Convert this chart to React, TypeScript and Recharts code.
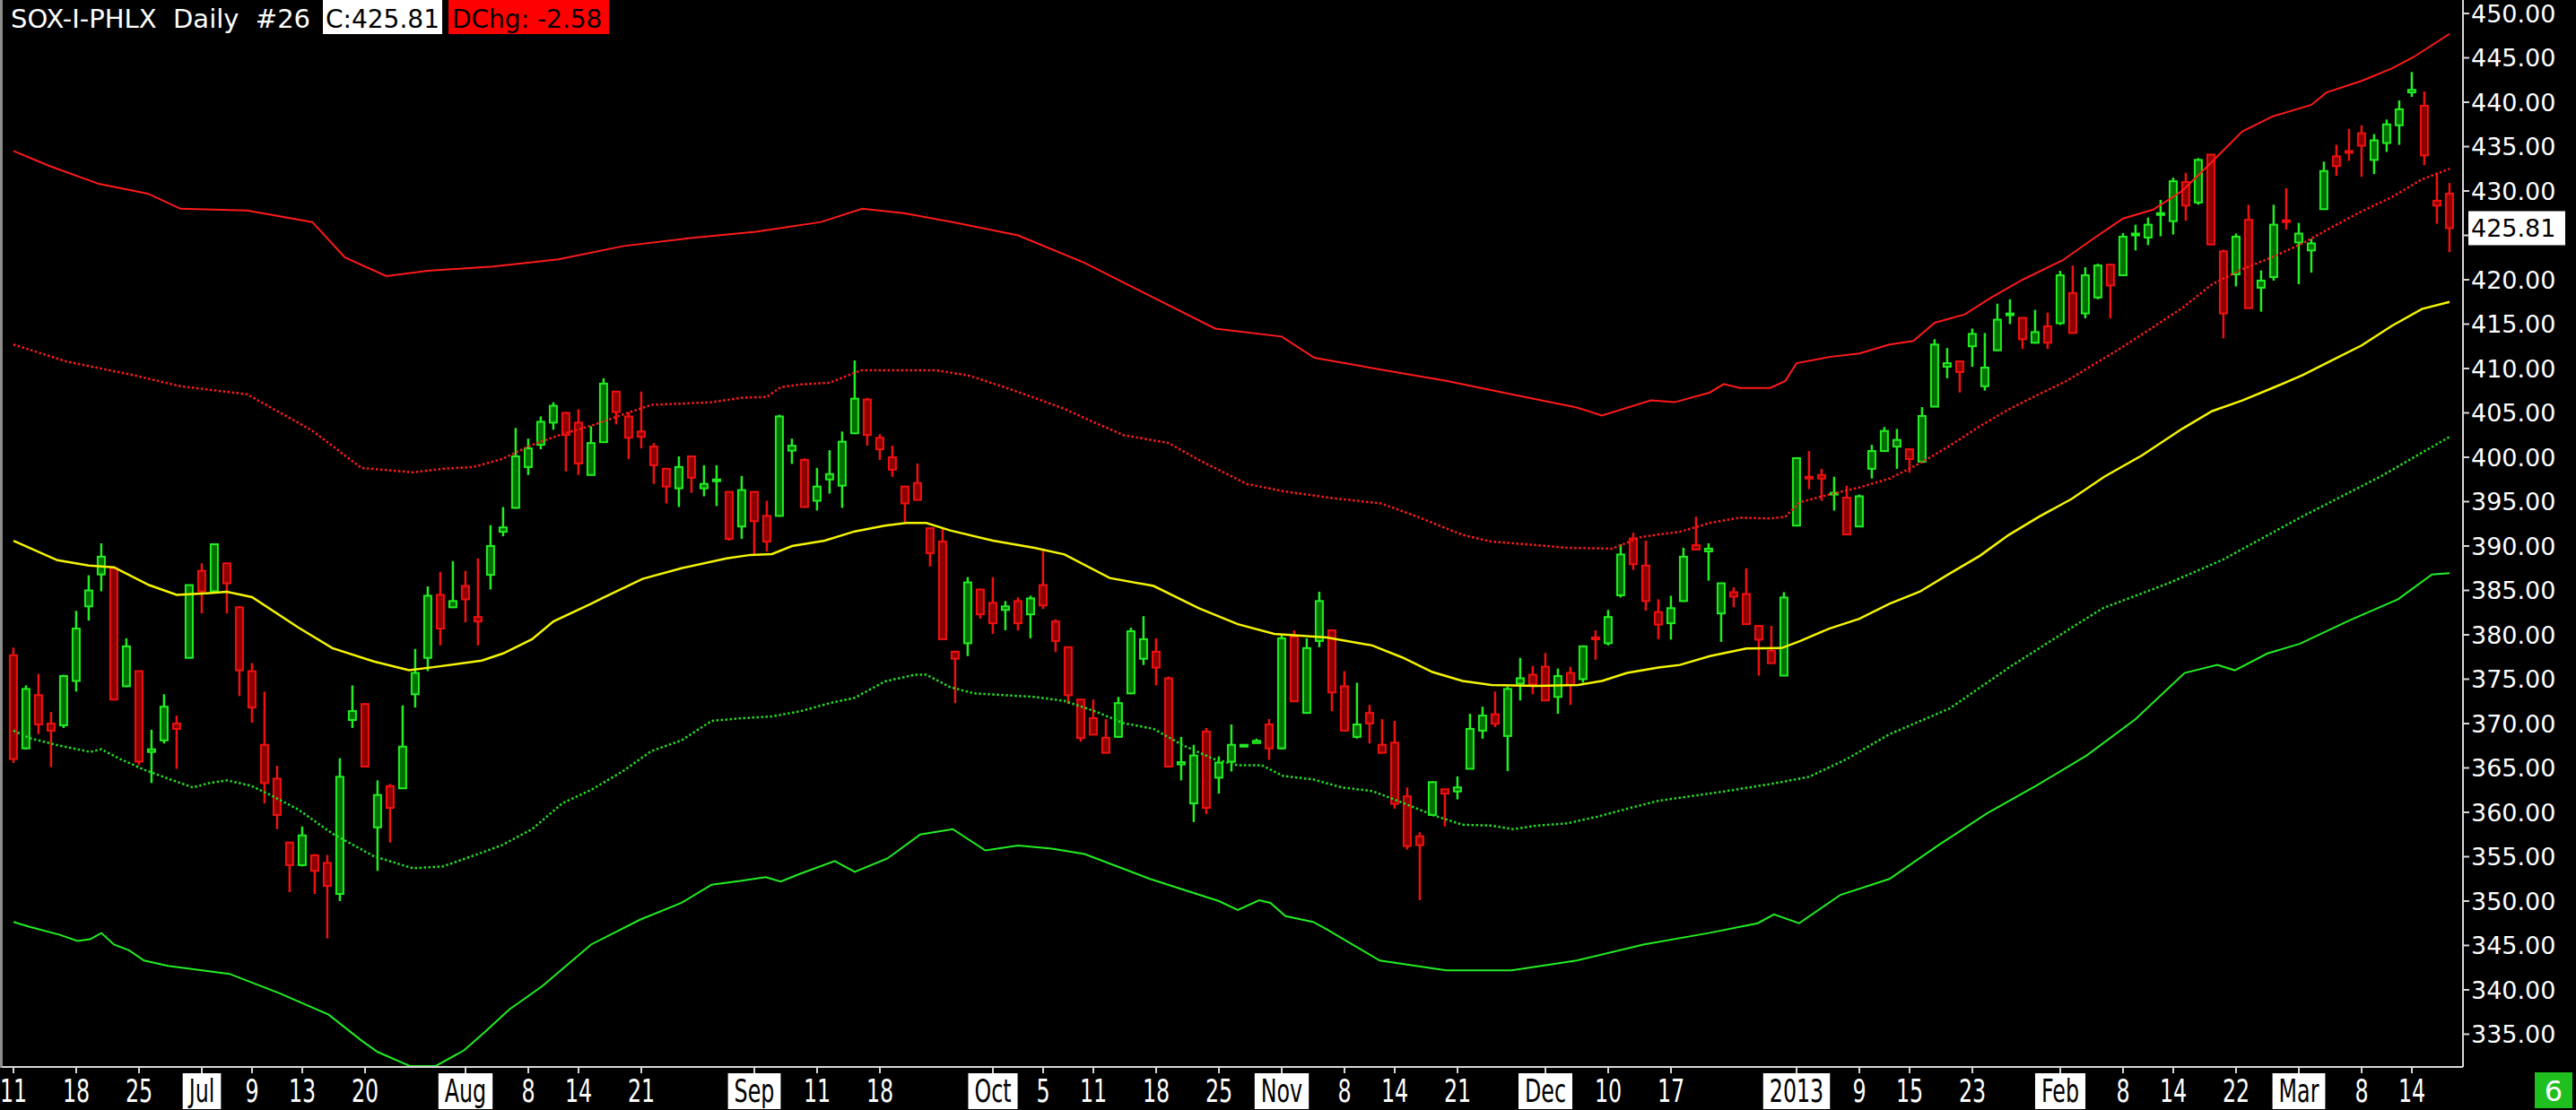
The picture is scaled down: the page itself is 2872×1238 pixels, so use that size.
import { Bar, ComposedChart, Line, ReferenceLine, XAxis, YAxis } from "recharts";

// trading sessions, Jun 11 2012 .. Mar 19 2013 (Oct 29/30 kept as flat bars)
const dates = [
  "6/11", "6/12", "6/13", "6/14", "6/15", "6/18", "6/19", "6/20", "6/21", "6/22", "6/25", "6/26", "6/27", "6/28", "6/29",
  "7/2", "7/3", "7/5", "7/6", "7/9", "7/10", "7/11", "7/12", "7/13", "7/16", "7/17", "7/18", "7/19", "7/20",
  "7/23", "7/24", "7/25", "7/26", "7/27", "7/30", "7/31",
  "8/1", "8/2", "8/3", "8/6", "8/7", "8/8", "8/9", "8/10", "8/13", "8/14", "8/15", "8/16", "8/17",
  "8/20", "8/21", "8/22", "8/23", "8/24", "8/27", "8/28", "8/29", "8/30", "8/31",
  "9/4", "9/5", "9/6", "9/7", "9/10", "9/11", "9/12", "9/13", "9/14", "9/17", "9/18", "9/19", "9/20", "9/21",
  "9/24", "9/25", "9/26", "9/27", "9/28",
  "10/1", "10/2", "10/3", "10/4", "10/5", "10/8", "10/9", "10/10", "10/11", "10/12", "10/15", "10/16", "10/17", "10/18", "10/19",
  "10/22", "10/23", "10/24", "10/25", "10/26", "10/29", "10/30", "10/31",
  "11/1", "11/2", "11/5", "11/6", "11/7", "11/8", "11/9", "11/12", "11/13", "11/14", "11/15", "11/16",
  "11/19", "11/20", "11/21", "11/23", "11/26", "11/27", "11/28", "11/29", "11/30",
  "12/3", "12/4", "12/5", "12/6", "12/7", "12/10", "12/11", "12/12", "12/13", "12/14", "12/17", "12/18", "12/19", "12/20", "12/21",
  "12/24", "12/26", "12/27", "12/28", "12/31",
  "1/2", "1/3", "1/4", "1/7", "1/8", "1/9", "1/10", "1/11", "1/14", "1/15", "1/16", "1/17", "1/18",
  "1/22", "1/23", "1/24", "1/25", "1/28", "1/29", "1/30", "1/31",
  "2/1", "2/4", "2/5", "2/6", "2/7", "2/8", "2/11", "2/12", "2/13", "2/14", "2/15", "2/19", "2/20", "2/21", "2/22",
  "2/25", "2/26", "2/27", "2/28",
  "3/1", "3/4", "3/5", "3/6", "3/7", "3/8", "3/11", "3/12", "3/13", "3/14", "3/15", "3/18", "3/19",
];

const open = [
  377.7, 367.2, 373.2, 370.0, 369.8, 374.8, 383.2, 386.8, 387.5, 374.2,
  375.9, 366.8, 368.1, 370.0, 377.4, 387.2, 384.9, 388.05, 383.1, 375.9,
  367.6, 363.8, 356.6, 354.05, 355.15, 354.3, 350.8, 370.4, 372.2, 358.3,
  362.95, 362.7, 373.3, 377.4, 384.5, 383.1, 385.5, 382.0, 386.75, 391.6,
  394.3, 398.9, 401.4, 403.9, 405.0, 403.9, 398.0, 401.7, 407.4, 404.6,
  402.9, 401.2, 398.7, 396.5, 400.1, 396.5, 397.3, 396.1, 392.2, 396.1,
  393.4, 393.4, 400.75, 399.7, 395.1, 397.5, 396.8, 402.7, 406.5, 402.2,
  400.0, 396.7, 397.1, 392.0, 390.5, 378.1, 379.05, 385.1, 383.6, 382.8,
  383.8, 382.3, 385.6, 381.5, 378.6, 372.7, 370.6, 368.4, 368.5, 373.4,
  377.3, 378.1, 375.1, 365.4, 361.0, 369.1, 363.9, 365.7, 367.5, 367.8,
  369.9, 367.2, 379.8, 371.2, 379.3, 380.5, 374.2, 368.5, 371.2, 367.6,
  367.85, 361.8, 357.3, 359.7, 362.6, 362.35, 364.9, 369.2, 371.05, 368.6,
  374.5, 375.5, 376.4, 373.0, 375.7, 375.0, 379.7, 379.05, 384.45, 390.85,
  387.8, 382.56, 381.3, 383.8, 390.1, 389.4, 382.4, 384.8, 384.6, 381.0,
  378.2, 375.4, 392.3, 397.8, 398.0, 395.9, 395.45, 392.2, 398.7, 400.7,
  401.2, 400.9, 399.5, 405.7, 410.2, 410.8, 412.5, 408.0, 412.05, 416.1,
  415.7, 412.9, 414.75, 415.1, 418.5, 416.2, 418.0, 421.7, 420.5, 425.0,
  424.75, 427.3, 426.6, 431.0, 428.7, 434.1, 423.2, 420.6, 426.75, 419.1,
  420.3, 426.7, 424.2, 423.3, 427.95, 433.9, 434.5, 436.5, 433.5, 435.4,
  437.4, 441.1, 439.6, 428.9, 429.7,
];

const high = [
  378.55, 374.3, 375.6, 371.3, 375.5, 382.7, 386.7, 390.3, 387.7, 379.6,
  375.9, 369.3, 373.3, 370.9, 385.6, 388.05, 390.3, 388.05, 383.2, 376.8,
  373.6, 365.25, 356.6, 358.4, 355.3, 355.2, 366.1, 374.3, 372.3, 363.6,
  363.2, 372.05, 378.4, 385.45, 387.1, 388.3, 387.2, 388.6, 392.35, 394.4,
  403.3, 402.1, 404.6, 406.2, 405.1, 405.4, 403.5, 408.9, 407.4, 405.1,
  407.4, 401.6, 398.8, 400.1, 400.1, 399.1, 399.1, 396.1, 397.9, 396.1,
  395.1, 404.8, 402.1, 399.9, 398.8, 400.8, 402.9, 410.9, 406.7, 402.6,
  401.3, 396.7, 399.3, 392.1, 392.1, 378.2, 386.5, 385.2, 386.5, 383.8,
  384.2, 384.4, 389.5, 381.75, 378.6, 372.7, 372.7, 370.5, 373.0, 380.8,
  382.1, 379.6, 375.3, 368.5, 367.6, 369.5, 366.3, 369.9, 367.65, 368.3,
  370.5, 379.9, 380.5, 379.6, 384.85, 380.5, 375.9, 374.6, 372.1, 370.5,
  370.3, 362.8, 357.75, 363.5, 362.6, 364.05, 371.1, 371.9, 373.6, 374.15,
  377.4, 376.5, 377.95, 376.2, 376.4, 378.8, 380.5, 382.8, 390.2, 391.5,
  390.6, 384.0, 384.4, 389.8, 393.3, 390.3, 385.8, 385.35, 387.5, 381.1,
  381.0, 384.8, 399.9, 400.7, 398.7, 397.8, 396.8, 395.8, 401.4, 403.4,
  403.2, 401.0, 405.65, 413.3, 412.3, 410.9, 414.5, 414.0, 417.3, 417.8,
  415.75, 416.6, 416.3, 421.0, 421.6, 421.4, 421.8, 421.8, 425.25, 426.2,
  427.0, 429.0, 431.5, 432.05, 433.7, 434.1, 423.4, 425.2, 428.45, 421.05,
  428.45, 430.3, 426.4, 424.6, 433.3, 435.2, 437.0, 437.4, 436.4, 438.05,
  440.2, 443.4, 441.2, 432.05, 430.9,
];

const low = [
  365.56, 367.1, 368.8, 365.1, 369.5, 373.6, 381.6, 384.9, 372.6, 374.1,
  365.3, 363.3, 367.75, 364.9, 377.4, 382.4, 384.85, 382.4, 373.1, 370.1,
  361.0, 358.1, 351.0, 353.9, 350.8, 345.8, 350.0, 369.5, 365.05, 353.4,
  356.6, 362.7, 371.8, 375.9, 378.8, 383.0, 381.4, 378.8, 385.1, 391.1,
  394.2, 398.0, 400.9, 403.1, 398.4, 398.0, 398.0, 401.7, 403.7, 399.8,
  401.0, 397.0, 394.8, 394.4, 396.0, 395.6, 394.5, 390.6, 390.8, 389.1,
  389.4, 393.3, 399.25, 394.3, 394.0, 395.9, 394.3, 402.6, 401.3, 399.7,
  397.8, 392.7, 395.2, 387.7, 379.5, 372.3, 377.6, 381.8, 380.1, 380.5,
  380.5, 379.6, 382.9, 378.05, 372.2, 367.95, 368.75, 366.7, 368.4, 373.3,
  376.6, 374.3, 365.05, 363.6, 358.9, 359.8, 362.1, 364.6, 367.45, 367.8,
  365.9, 367.1, 372.5, 371.1, 378.6, 371.4, 369.2, 368.3, 367.75, 366.7,
  360.4, 355.8, 350.1, 359.6, 358.4, 361.45, 364.9, 368.3, 369.6, 364.65,
  372.6, 373.3, 372.6, 371.1, 372.1, 374.6, 377.2, 378.8, 384.2, 387.3,
  382.7, 379.5, 379.45, 383.7, 389.6, 386.1, 379.2, 383.1, 381.1, 375.4,
  376.8, 375.35, 392.3, 396.4, 395.1, 394.0, 391.3, 392.2, 397.6, 400.6,
  398.7, 398.25, 399.5, 405.65, 408.9, 407.3, 410.2, 407.5, 411.95, 415.0,
  412.2, 412.8, 412.2, 414.9, 414.0, 415.65, 417.8, 415.65, 420.5, 423.3,
  423.9, 424.9, 425.1, 426.65, 428.45, 423.9, 413.4, 419.25, 416.8, 416.4,
  419.9, 425.65, 419.5, 420.8, 427.9, 431.7, 433.4, 431.6, 431.9, 434.4,
  435.2, 440.6, 432.9, 426.3, 423.1,
];

const close = [
  366.0, 373.9, 369.9, 369.2, 375.35, 380.7, 385.0, 388.8, 372.7, 378.7,
  365.7, 367.1, 371.9, 369.4, 385.6, 384.9, 390.2, 385.8, 376.0, 371.8,
  363.3, 359.7, 354.05, 357.4, 353.4, 351.7, 364.0, 371.4, 365.15, 361.95,
  360.5, 367.4, 375.7, 384.4, 380.7, 383.8, 384.0, 381.5, 390.0, 392.1,
  400.1, 401.0, 404.0, 405.8, 402.5, 399.3, 401.6, 408.3, 405.1, 402.2,
  402.3, 399.1, 396.7, 398.9, 397.7, 397.0, 397.5, 390.8, 396.3, 392.8,
  390.5, 404.6, 401.3, 394.4, 396.7, 398.1, 401.75, 406.6, 402.5, 400.9,
  398.6, 394.8, 395.2, 389.2, 379.5, 377.3, 385.9, 382.3, 381.3, 383.2,
  381.3, 384.1, 383.3, 379.3, 373.2, 368.35, 368.75, 366.7, 372.3, 380.4,
  379.5, 376.3, 365.15, 365.65, 366.4, 360.5, 365.6, 367.6, 367.6, 368.05,
  367.2, 379.6, 372.5, 378.5, 383.8, 373.5, 369.2, 369.9, 370.0, 366.7,
  360.95, 356.2, 356.3, 363.4, 362.1, 362.8, 369.4, 370.9, 369.97, 373.9,
  375.1, 374.4, 372.6, 375.35, 374.35, 378.7, 379.5, 382.0, 389.05, 387.95,
  383.8, 381.15, 383.0, 388.8, 389.6, 389.7, 385.8, 384.3, 381.2, 379.45,
  376.8, 384.2, 399.9, 397.6, 397.6, 396.0, 391.3, 395.6, 400.7, 402.96,
  401.95, 399.8, 404.65, 412.7, 410.6, 409.6, 413.9, 410.1, 415.5, 416.2,
  413.3, 414.1, 412.9, 420.5, 414.0, 420.5, 421.6, 419.35, 424.85, 425.2,
  426.2, 427.5, 431.1, 428.35, 433.5, 423.97, 416.2, 424.85, 416.8, 419.9,
  426.2, 426.5, 425.2, 424.1, 432.25, 432.8, 434.3, 435.1, 435.7, 437.5,
  439.2, 441.4, 434.0, 428.35, 425.81,
];

// band lines, [session index, price]
const midBand = [
  [0, 390.6], [3.5, 388.4], [6, 387.8], [8, 387.6], [10.8, 385.6], [13, 384.5], [15.6, 384.7], [17, 384.85],
  [19, 384.25], [22.7, 380.8], [25.4, 378.5], [28.7, 377.0], [31.5, 376.0], [33.7, 376.4], [37.3, 377.1],
  [39, 377.9], [41.3, 379.5], [43, 381.5], [46, 383.5], [47, 384.2], [50.1, 386.3], [53.2, 387.5], [56.8, 388.6],
  [58.7, 389.0], [60.4, 389.1], [62, 390.0], [64.6, 390.6], [67, 391.65], [69.4, 392.3], [71.1, 392.6],
  [72.7, 392.6], [74.6, 391.75], [78, 390.6], [81.3, 389.8], [83.7, 389.05], [87.3, 386.4], [90.8, 385.5],
  [94.4, 383.0], [97.5, 381.2], [100.4, 380.1], [104.6, 379.7], [108.2, 378.8], [110.6, 377.45], [113, 375.8],
  [115.4, 374.8], [117.7, 374.35], [121.3, 374.25], [124.6, 374.35], [126.5, 374.8], [128.5, 375.7], [131, 376.3],
  [132.7, 376.6], [135.1, 377.6], [138, 378.45], [140.8, 378.5], [142.3, 379.3], [144.6, 380.7], [147, 381.8],
  [149.4, 383.5], [151.8, 384.85], [154.2, 386.9], [156.6, 388.9], [158.9, 391.25], [161.3, 393.3],
  [163.9, 395.3], [166.5, 397.8], [169.5, 400.2], [172.7, 403.2], [175.1, 405.2], [177.5, 406.4], [179.9, 407.8],
  [182.3, 409.25], [184.6, 410.9], [187, 412.6], [189.4, 414.8], [191.8, 416.7], [194, 417.5],
];

const upperOuter = [
  [0, 434.5], [2.9, 432.8], [6.8, 430.8], [10.7, 429.7], [13.3, 428.0], [18.6, 427.8], [23.8, 426.5],
  [26.4, 422.5], [29.7, 420.4], [33, 421.0], [38.2, 421.5], [43.4, 422.3], [48.6, 423.8], [53.9, 424.7],
  [59.1, 425.4], [64.3, 426.5], [67.6, 428.0], [70.9, 427.5], [74.8, 426.5], [80, 425.0], [85.3, 421.9],
  [90.5, 418.2], [95.7, 414.5], [101, 413.6], [103.6, 411.2], [108.8, 409.9], [114.1, 408.6], [119.3, 407.1],
  [124.5, 405.6], [126.5, 404.7], [130.4, 406.4], [132.3, 406.2], [135.1, 407.3], [136.2, 408.25],
  [137.5, 407.8], [139.9, 407.8], [141.1, 408.6], [142, 410.6], [144.6, 411.3], [147, 411.7], [149.4, 412.7],
  [151.3, 413.1], [153, 415.15], [155.4, 416.1], [157.5, 418.0], [160, 420.0], [163.2, 422.2], [165.6, 424.6],
  [168, 426.9], [170.4, 427.9], [172.7, 430.0], [175.1, 433.3], [177.5, 436.7], [179.9, 438.4], [183, 439.7],
  [184.2, 441.1], [187, 442.4], [189.4, 443.8], [191.1, 445.05], [194, 447.7],
];

const upperInner = [
  [0, 412.7], [4.2, 410.8], [9.4, 409.3], [13.3, 408.0], [18.6, 407.1], [23.8, 403.0], [27.7, 398.8],
  [31.8, 398.3], [34.2, 398.7], [36.6, 398.9], [38.9, 399.8], [41.3, 401.4], [43.7, 402.6], [46.1, 403.6],
  [48.5, 404.8], [50.8, 405.9], [55.6, 406.2], [58, 406.7], [60, 406.8], [61.1, 407.9], [62.7, 408.2],
  [65, 408.4], [67.5, 409.8], [73.5, 409.8], [76.1, 409.2], [78.9, 407.9], [81.3, 406.7], [83.7, 405.45],
  [86.1, 403.9], [88.4, 402.5], [92, 401.6], [94.4, 399.7], [98.2, 397.0], [101, 396.2], [105, 395.4],
  [108.9, 394.8], [111.8, 393.3], [115.4, 391.25], [117.7, 390.5], [121.3, 390.1], [123.7, 389.8],
  [127.3, 389.7], [129.6, 391.0], [131, 391.3], [132.7, 391.6], [135.1, 392.6], [137.5, 393.2], [139.9, 393.1],
  [141.1, 393.3], [142.3, 394.95], [144.6, 395.8], [147, 396.6], [149.4, 397.6], [151.8, 399.3], [154.2, 401.3],
  [156.6, 403.5], [158.9, 405.4], [161.3, 407.1], [163.5, 408.6], [168, 412.45], [172.7, 416.8], [175.1, 419.5],
  [177.5, 421.2], [179.9, 422.55], [182.3, 424.1], [184.6, 425.9], [187, 427.7], [189.4, 429.3],
  [191.8, 431.3], [194, 432.5],
];

const lowerInner = [
  [0, 369.2], [1.3, 368.35], [3.7, 367.5], [6.1, 366.8], [7, 367.1], [8.5, 366.0], [10.4, 364.8], [12.3, 363.8],
  [14.3, 362.8], [15.6, 363.3], [17, 363.6], [18.9, 363.0], [20.4, 362.0], [22.7, 360.3], [25.4, 357.6],
  [28.7, 355.05], [31.8, 353.7], [34.2, 353.9], [36.6, 355.1], [38.9, 356.3], [41.3, 358.1], [43.7, 361.0],
  [46.1, 362.6], [48.5, 364.6], [50.8, 366.9], [53.2, 368.1], [55.6, 370.3], [58, 370.6], [60.4, 370.8],
  [62.7, 371.4], [65, 372.3], [67, 372.9], [69.4, 374.75], [71.8, 375.5], [72.7, 375.5], [74.6, 374.1],
  [76.5, 373.4], [78.9, 373.2], [81.3, 373.0], [83.7, 372.55], [86.1, 371.4], [88.4, 370.05], [90.8, 369.4],
  [93.2, 367.5], [95.6, 366.0], [97.5, 365.3], [99.4, 365.3], [101.1, 364.1], [103.5, 363.7], [105.8, 362.8],
  [108.2, 362.4], [110.6, 361.1], [113, 359.7], [115.4, 358.6], [117.7, 358.5], [119.4, 358.1], [121.3, 358.5],
  [123.7, 358.75], [126.1, 359.5], [128.5, 360.4], [131, 361.3], [136, 362.3], [140, 363.2], [143, 364.0],
  [146, 366.0], [149.4, 368.8], [154.2, 371.7], [158.9, 376.3], [163.9, 380.8], [166.4, 383.0],
  [171.6, 385.8], [176, 388.5], [182.1, 393.2], [188.6, 397.9], [194, 402.3],
];

const lowerOuter = [
  [0, 347.65], [1.3, 347.1], [3.7, 346.2], [5.1, 345.5], [6.1, 345.7], [7, 346.4], [8, 345.1], [9.2, 344.45],
  [10.4, 343.3], [12.3, 342.7], [17.2, 341.8], [21.2, 339.6], [25.1, 337.2], [27.7, 334.3], [29, 333.0],
  [31.6, 331.4], [33.6, 331.4], [35.9, 333.2], [37.5, 335.2], [39.5, 337.8], [42.1, 340.4], [46, 345.1],
  [49.9, 347.9], [53.2, 349.8], [55.6, 351.85], [58, 352.3], [59.9, 352.7], [61.1, 352.2], [62.7, 353.1],
  [65.4, 354.5], [67, 353.3], [69.6, 354.8], [72.2, 357.5], [74.8, 358.1], [77.4, 355.7], [80, 356.25],
  [82.7, 355.9], [85.3, 355.3], [90.5, 352.5], [96, 350.0], [97.5, 349.0], [99.2, 350.1], [100.1, 349.8],
  [101.3, 348.3], [103.5, 347.65], [104.6, 346.8], [108.8, 343.3], [114.1, 342.2], [119.3, 342.2],
  [124.5, 343.3], [129.8, 345.1], [135, 346.4], [138.9, 347.5], [140.2, 348.5], [142.2, 347.5], [145.5, 350.7],
  [149.4, 352.5], [153.3, 356.3], [157.2, 359.9], [161.2, 363.1], [165.1, 366.4], [169, 370.5], [172.9, 375.7],
  [175.5, 376.6], [176.9, 376.0], [179.5, 377.9], [182.1, 379.0], [186, 381.6], [189.9, 384.0],
  [192.6, 386.8], [194, 386.95],
];

const tickDates = [
  "6/11", "6/18", "6/25", "7/2", "7/9", "7/13", "7/20", "8/1", "8/8", "8/14", "8/21", "9/4", "9/11", "9/18",
  "10/1", "10/5", "10/11", "10/18", "10/25", "11/1", "11/8", "11/14", "11/21", "12/3", "12/10", "12/17",
  "1/2", "1/9", "1/15", "1/23", "2/1", "2/8", "2/14", "2/22", "3/1", "3/8", "3/14",
];
const tickText = [
  "11", "18", "25", "Jul", "9", "13", "20", "Aug", "8", "14", "21", "Sep", "11", "18",
  "Oct", "5", "11", "18", "25", "Nov", "8", "14", "21", "Dec", "10", "17",
  "2013", "9", "15", "23", "Feb", "8", "14", "22", "Mar", "8", "14",
];
const boxedLabels = ["Jul", "Aug", "Sep", "Oct", "Nov", "Dec", "2013", "Feb", "Mar"];

const priceTicks = [
  335, 340, 345, 350, 355, 360, 365, 370, 375, 380, 385, 390,
  395, 400, 405, 410, 415, 420, 425, 430, 435, 440, 445, 450,
];
const symbol = "SOX-I-PHLX";
const lastClose = 425.81;
const dayChange = -2.58;

const W = 2872;
const H = 1238;
const FONT = "DejaVu Sans";

const candles = dates.map((date, i) => ({
  date,
  open: open[i],
  high: high[i],
  low: low[i],
  close: close[i],
  range: [low[i], high[i]],
}));
const pts = (arr: number[][]) => arr.map(([x, v]) => ({ x, v }));

let measureCtx: CanvasRenderingContext2D | null = null;
function textWidth(s: string, size: number) {
  if (!measureCtx) measureCtx = document.createElement("canvas").getContext("2d");
  if (!measureCtx) return s.length * size * 0.6;
  measureCtx.font = `${size}px "${FONT}"`;
  return measureCtx.measureText(s).width;
}

function Candle(props: any) {
  const { x, y, width, height, payload } = props;
  const { open: o, close: c, high: hi, low: lo } = payload;
  const top = Math.min(y, y + height);
  const h = Math.abs(height);
  const ppu = h / (hi - lo);
  const cx = x + width / 2;
  const py = (v: number) => top + (hi - v) * ppu;
  const up = c >= o;
  const stroke = up ? "#22ee22" : "#f01010";
  const fill = up ? "#007000" : "#8c0000";
  const bTop = py(Math.max(o, c));
  const bh = Math.max(py(Math.min(o, c)) - bTop, 2);
  return (
    <g>
      <line x1={cx} x2={cx} y1={top} y2={top + h} stroke={stroke} strokeWidth={2.5} />
      <rect x={cx - 4} y={bTop} width={8} height={bh} fill={fill} stroke={stroke} strokeWidth={2} />
    </g>
  );
}

function DateTick({ x, y, payload }: any) {
  const label = tickText[tickDates.indexOf(payload.value)] ?? "";
  const boxed = boxedLabels.includes(label);
  const sx = 0.66;
  const w = textWidth(label, 36) * sx + 14;
  return (
    <g>
      {boxed && <rect x={x - w / 2} y={y} width={w} height={40} fill="#ffffff" />}
      <text
        transform={`translate(${x},${y + 32}) scale(${sx},1)`}
        textAnchor="middle"
        fontSize={36}
        fontFamily={FONT}
        fill={boxed ? "#000000" : "#ffffff"}
      >
        {label}
      </text>
    </g>
  );
}

function PriceTick({ x, y, payload }: any) {
  if (payload.value === 425) return <g />;
  return (
    <text x={x} y={y + 10} fontSize={27} fontFamily={FONT} fill="#ffffff">
      {payload.value.toFixed(2)}
    </text>
  );
}

function LastBox(props: any) {
  const vb = props.viewBox || {};
  const bx = vb.x + vb.width + 6;
  const by = vb.y;
  return (
    <g>
      <rect x={bx} y={by - 19} width={108} height={38} fill="#ffffff" />
      <text x={bx + 3} y={by + 10} fontSize={27} fontFamily={FONT} fill="#000000">
        {lastClose.toFixed(2)}
      </text>
    </g>
  );
}

const bandLines = [
  { key: "r2", data: upperOuter, color: "#ff1a1a", width: 2, dash: undefined },
  { key: "r1", data: upperInner, color: "#ff1a1a", width: 2.5, dash: "2.5 2.5" },
  { key: "g1", data: lowerInner, color: "#22dd22", width: 2.5, dash: "2.5 2.5" },
  { key: "g2", data: lowerOuter, color: "#22ee22", width: 2, dash: undefined },
  { key: "mid", data: midBand, color: "#f5f500", width: 2.5, dash: undefined },
];

export default function App() {
  return (
    <div style={{ position: "relative", width: W, height: H, background: "#000", overflow: "hidden" }}>
      <style>{"body{margin:0;background:#000}"}</style>
      <div style={{ position: "absolute", left: 0, top: 0, width: 3, height: 1191, background: "#8c8c8c" }} />
      <ComposedChart width={W} height={H} data={candles} margin={{ top: 0, right: 0, bottom: 0, left: 2 }}>
        <XAxis
          xAxisId="cat"
          dataKey="date"
          type="category"
          ticks={tickDates}
          interval={0}
          height={48}
          padding={{ left: 6, right: 8 }}
          axisLine={{ stroke: "#d8d8d8", strokeWidth: 2 }}
          tickLine={{ stroke: "#d8d8d8", strokeWidth: 2 }}
          tickSize={7}
          tickMargin={0}
          tick={DateTick}
        />
        <XAxis
          xAxisId="num"
          type="number"
          dataKey="x"
          domain={[-0.5, 194.5]}
          allowDataOverflow
          padding={{ left: 6, right: 8 }}
          hide
        />
        <YAxis
          yAxisId="r"
          orientation="right"
          width={126}
          domain={[331.31, 451.515]}
          allowDataOverflow
          ticks={priceTicks}
          interval={0}
          axisLine={{ stroke: "#d8d8d8", strokeWidth: 2 }}
          tickLine={{ stroke: "#d8d8d8", strokeWidth: 2 }}
          tickSize={7}
          tickMargin={2}
          tick={PriceTick}
        />
        <Bar
          xAxisId="cat"
          yAxisId="r"
          dataKey="range"
          shape={Candle}
          isAnimationActive={false}
        />
        {bandLines.map((b) => (
          <Line
            key={b.key}
            xAxisId="num"
            yAxisId="r"
            data={pts(b.data)}
            dataKey="v"
            type="linear"
            stroke={b.color}
            strokeWidth={b.width}
            strokeDasharray={b.dash}
            dot={false}
            activeDot={false}
            isAnimationActive={false}
          />
        ))}
        <ReferenceLine
          xAxisId="cat"
          yAxisId="r"
          y={lastClose}
          stroke="#000"
          strokeOpacity={0}
          label={LastBox}
        />
      </ComposedChart>
      <svg style={{ position: "absolute", left: 0, top: 0 }} width={700} height={40}>
        <text x={12} y={31} fontSize={29} fontFamily={FONT} fill="#ffffff" style={{ whiteSpace: "pre" }}>
          {`${symbol}  Daily  #26`}
        </text>
        <rect x={360} y={0} width={133} height={38} fill="#ffffff" />
        <text x={363} y={31} fontSize={28} fontFamily={FONT} fill="#000">
          {`C:${lastClose.toFixed(2)}`}
        </text>
        <rect x={500} y={0} width={179} height={38} fill="#ff0000" />
        <text x={504} y={31} fontSize={28} fontFamily={FONT} fill="#000">
          {`DChg: ${dayChange.toFixed(2)}`}
        </text>
      </svg>
      <svg style={{ position: "absolute", left: 2826, top: 1196 }} width={42} height={40}>
        <rect x={0} y={0} width={42} height={40} fill="#1fbf1f" />
        <text x={21} y={32} textAnchor="middle" fontSize={32} fontFamily={FONT} fill="#ffffff">
          6
        </text>
      </svg>
    </div>
  );
}
